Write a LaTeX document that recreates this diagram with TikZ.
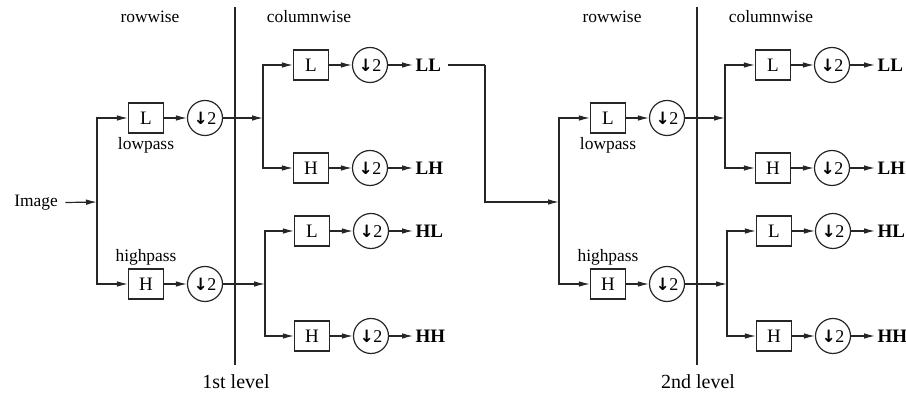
\documentclass[tikz,border=0pt]{standalone}
\usepackage{fontspec}
\setmainfont{Liberation Serif}
\newfontfamily\arrfont{DejaVu Sans}
\usetikzlibrary{arrows.meta}
\newcommand{\dsym}{{\arrfont\bfseries\fontsize{8.5}{10}\selectfont ↓}\kern-0.3pt2}
\begin{document}
\begin{tikzpicture}[x=0.5pt,y=-0.5pt,
  line width=0.6pt, draw=black!85,
  >={Latex[length=5.5pt,width=2.8pt]},
  lbl/.style={font=\fontsize{8.7}{10}\selectfont, inner sep=1pt},
  lvl/.style={font=\fontsize{10}{12}\selectfont, inner sep=1pt},
  filt/.style={draw, minimum width=17.5pt, minimum height=15pt, inner sep=0pt, font=\fontsize{9.5}{11}\selectfont},
  dec/.style={draw, circle, minimum size=17.5pt, inner sep=0pt, font=\fontsize{9}{10}\selectfont},
  outp/.style={anchor=west, inner sep=1pt, font=\fontsize{9.5}{11}\selectfont\bfseries}]
\useasboundingbox (0,0) rectangle (906,394);

\node[lbl] (img) at (36,203) {Image};

\foreach \s/\o/\lev in {a/0/1st level, b/462/2nd level}{
  % labels
  \node[lbl] (rw\s) at (150+\o,17) {rowwise};
  \node[lbl] (cw\s) at (309+\o,17) {columnwise};
  \node[lvl] (lv\s) at (236+\o,382) {\lev};
  \coordinate (lvT\s) at (235+\o,7);
  \coordinate (lvB\s) at (235+\o,365);
  \draw (lvT\s) -- (lvB\s);
  % rowwise stage
  \coordinate (sp\s) at (97+\o,202);
  \node[filt] (rl\s) at (146+\o,118) {L};
  \node[filt] (rh\s) at (146+\o,284) {H};
  \node[lbl] (lp\s) at (146+\o,145) {lowpass};
  \node[lbl] (hp\s) at (146+\o,257) {highpass};
  \node[dec] (dl\s) at (205+\o,118) {\dsym};
  \node[dec] (dh\s) at (205+\o,284) {\dsym};
  \draw[->] (sp\s) |- (rl\s.west);
  \draw[->] (sp\s) |- (rh\s.west);
  \draw[->] (rl\s) -- (dl\s);
  \draw[->] (rh\s) -- (dh\s);
  % columnwise stage
  \coordinate (cs1\s) at (263+\o,118);
  \coordinate (cs2\s) at (265+\o,284);
  \draw[->] (dl\s) -- (cs1\s);
  \draw[->] (dh\s) -- (cs2\s);
  \node[filt] (cLL\s) at (311+\o,65) {L};
  \node[filt] (cLH\s) at (311+\o,168) {H};
  \node[filt] (cHL\s) at (312+\o,231) {L};
  \node[filt] (cHH\s) at (312+\o,336) {H};
  \draw[->] (cs1\s) |- (cLL\s.west);
  \draw[->] (cs1\s) |- (cLH\s.west);
  \draw[->] (cs2\s) |- (cHL\s.west);
  \draw[->] (cs2\s) |- (cHH\s.west);
  \node[dec] (dLL\s) at (370+\o,65) {\dsym};
  \node[dec] (dLH\s) at (370+\o,168) {\dsym};
  \node[dec] (dHL\s) at (371+\o,231) {\dsym};
  \node[dec] (dHH\s) at (371+\o,336) {\dsym};
  \draw[->] (cLL\s) -- (dLL\s);
  \draw[->] (cLH\s) -- (dLH\s);
  \draw[->] (cHL\s) -- (dHL\s);
  \draw[->] (cHH\s) -- (dHH\s);
  \node[outp] (oLL\s) at (413+\o,65) {LL};
  \node[outp] (oLH\s) at (413+\o,168) {LH};
  \node[outp] (oHL\s) at (413+\o,231) {HL};
  \node[outp] (oHH\s) at (413+\o,336) {HH};
  \draw[->] (dLL\s) -- (oLL\s);
  \draw[->] (dLH\s) -- (oLH\s);
  \draw[->] (dHL\s) -- (oHL\s);
  \draw[->] (dHH\s) -- (oHH\s);
}

\draw[->, shorten <=2.5pt] (img) -- (spa);
\coordinate (kink) at (485,65);
\draw ([xshift=2pt]oLLa.east) -- (kink);
\draw[->] (kink) |- (spb);
\end{tikzpicture}
\end{document}
